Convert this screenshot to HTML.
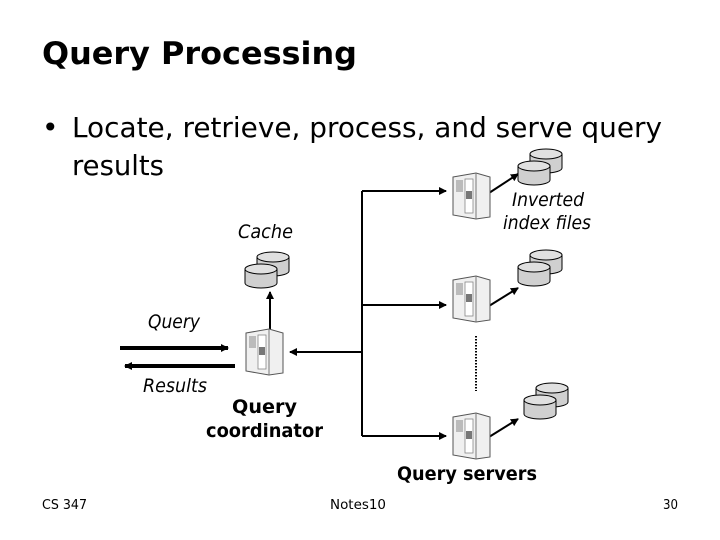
<!DOCTYPE html>
<html><head><meta charset="utf-8"><style>
html,body{margin:0;padding:0;background:#fff;}
svg{display:block;font-family:"DejaVu Sans","Liberation Sans",sans-serif;}
</style></head><body>
<svg width="720" height="540" viewBox="0 0 720 540" xmlns="http://www.w3.org/2000/svg">
<defs>
<marker id="ah" markerWidth="8" markerHeight="8" refX="7" refY="4" orient="auto" markerUnits="userSpaceOnUse">
<path d="M0,0 L8,4 L0,8 z" fill="#000"/></marker>
<g id="srv">
<path d="M0,4 L23,0 L37,4 L37,44 L23,46 L0,42 z" fill="#f0f0f0" stroke="#555" stroke-width="1"/>
<path d="M23,0 L23,46" stroke="#777"/>
<rect x="3" y="7" width="7" height="12" fill="#bbb"/>
<rect x="12" y="6" width="8" height="34" fill="#fff" stroke="#888" stroke-width="0.8"/>
<rect x="13" y="18" width="6" height="8" fill="#777"/>
</g>
<g id="cyl">
<path d="M0,5 L0,19 A16,5 0 0 0 32,19 L32,5" fill="#d0d0d0" stroke="#000"/>
<ellipse cx="16" cy="5" rx="16" ry="5" fill="#e0e0e0" stroke="#000"/>
</g>
<g id="disks">
<use href="#cyl" x="12" y="0"/>
<use href="#cyl" x="0" y="12"/>
</g>
</defs>
<text x="42" y="64" font-size="31" font-weight="bold" textLength="315" lengthAdjust="spacingAndGlyphs">Query Processing</text>
<text x="42" y="137" font-size="28">•</text>
<text x="72" y="137" font-size="28" textLength="590" lengthAdjust="spacingAndGlyphs">Locate, retrieve, process, and serve query</text>
<text x="72" y="175" font-size="28" textLength="92" lengthAdjust="spacingAndGlyphs">results</text>

<g stroke="#000" stroke-width="2" fill="none">
<path d="M362,191 L362,436"/>
<path d="M362,191 L446,191" marker-end="url(#ah)"/>
<path d="M362,305 L446,305" marker-end="url(#ah)"/>
<path d="M362,436 L446,436" marker-end="url(#ah)"/>
<path d="M362,352 L290,352" marker-end="url(#ah)"/>
<path d="M270,331 L270,292" marker-end="url(#ah)"/>
<path d="M489,193 L518,174" marker-end="url(#ah)"/>
<path d="M489,306 L518,288" marker-end="url(#ah)"/>
<path d="M489,437 L518,419" marker-end="url(#ah)"/>
</g>
<g stroke="#000" stroke-width="4" fill="none">
<path d="M120,348 L228,348" marker-end="url(#ah)"/>
<path d="M235,366 L125,366" marker-end="url(#ah)"/>
</g>
<path d="M476,336 L476,391" stroke="#000" stroke-width="2" stroke-dasharray="1.5,1.5"/>

<use href="#srv" x="453" y="173"/>
<use href="#srv" x="453" y="276"/>
<use href="#srv" x="453" y="413"/>
<use href="#srv" x="246" y="329"/>
<use href="#disks" x="518" y="149"/>
<use href="#disks" x="518" y="250"/>
<use href="#disks" x="524" y="383"/>
<use href="#disks" x="245" y="252"/>

<g font-style="italic" font-size="19">
<text x="238" y="238" textLength="55" lengthAdjust="spacingAndGlyphs">Cache</text>
<text x="512" y="206" textLength="72" lengthAdjust="spacingAndGlyphs">Inverted</text>
<text x="503" y="229" textLength="88" lengthAdjust="spacingAndGlyphs">index files</text>
<text x="148" y="328" textLength="52" lengthAdjust="spacingAndGlyphs">Query</text>
<text x="143" y="392" textLength="64" lengthAdjust="spacingAndGlyphs">Results</text>
</g>
<g font-weight="bold" font-size="19">
<text x="232" y="413" textLength="65" lengthAdjust="spacingAndGlyphs">Query</text>
<text x="206" y="437" textLength="117" lengthAdjust="spacingAndGlyphs">coordinator</text>
<text x="397" y="480" textLength="140" lengthAdjust="spacingAndGlyphs">Query servers</text>
</g>
<g font-size="13">
<text x="42" y="509" textLength="45" lengthAdjust="spacingAndGlyphs">CS 347</text>
<text x="330" y="509" textLength="56" lengthAdjust="spacingAndGlyphs">Notes10</text>
<text x="663" y="509" textLength="15" lengthAdjust="spacingAndGlyphs">30</text>
</g>
</svg>
</body></html>
